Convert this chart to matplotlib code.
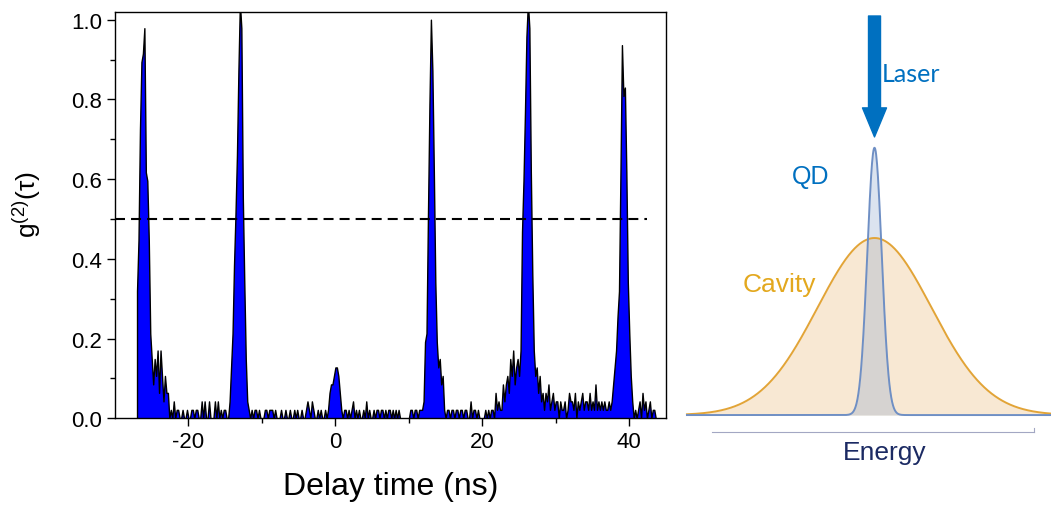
import numpy as np
import matplotlib
matplotlib.use("Agg")
import matplotlib.pyplot as plt
from matplotlib.patches import FancyArrowPatch, ArrowStyle

# coincidence counts in 0.2 ns bins, first bin at -27.0 ns
bin_ns = 0.2
t_first = -27.0
counts_per_g2 = 47  # counts in one bin for g2 = 1

# -27.0 .. -11.2 ns
counts_a = [
    15, 21, 34, 42, 43, 46, 29, 28, 21, 10, 7, 4, 7, 5, 8, 3, 8, 5, 2, 5,
    3, 3, 0, 1, 0, 2, 0, 1, 1, 0, 0, 1, 0, 0, 1, 0, 0, 1, 1, 0,
    1, 1, 0, 0, 2, 0, 2, 0, 0, 2, 0, 0, 0, 2, 0, 2, 0, 1, 0, 1,
    1, 0, 0, 2, 6, 10, 18, 24, 31, 41, 49, 46, 26, 16, 7, 2, 1, 0, 1, 0,
]
# -11.0 .. 4.8 ns
counts_b = [
    1, 1, 0, 1, 0, 0, 0, 1, 1, 0, 1, 1, 1, 0, 1, 0, 0, 0, 1, 0,
    0, 1, 0, 0, 1, 0, 0, 1, 0, 1, 0, 0, 1, 0, 0, 1, 2, 1, 0, 2,
    1, 0, 0, 1, 0, 1, 0, 0, 1, 0, 1, 3, 4, 4, 5, 6, 6, 5, 3, 1,
    0, 1, 1, 0, 1, 0, 1, 2, 0, 1, 0, 1, 0, 0, 1, 0, 2, 0, 1, 0,
]
# 5.0 .. 20.8 ns
counts_c = [
    0, 1, 0, 1, 1, 0, 1, 1, 0, 1, 0, 1, 1, 0, 1, 0, 1, 0, 1, 0,
    0, 0, 0, 0, 0, 0, 1, 1, 0, 1, 1, 0, 1, 1, 1, 2, 9, 10, 24, 37,
    47, 41, 29, 16, 9, 6, 7, 4, 5, 1, 0, 1, 1, 0, 1, 1, 0, 1, 1, 0,
    1, 1, 0, 1, 1, 0, 0, 2, 0, 1, 1, 0, 1, 0, 0, 0, 0, 1, 0, 1,
]
# 21.0 .. 36.8 ns
counts_d = [
    0, 1, 1, 0, 3, 1, 2, 1, 1, 4, 2, 4, 5, 3, 7, 5, 8, 4, 6, 7,
    5, 8, 22, 28, 36, 45, 49, 46, 29, 17, 8, 5, 6, 3, 5, 2, 3, 1, 3, 2,
    4, 1, 2, 3, 1, 2, 2, 0, 2, 1, 1, 2, 0, 1, 3, 2, 2, 1, 3, 0,
    2, 1, 2, 3, 1, 2, 2, 1, 3, 1, 2, 1, 4, 1, 2, 1, 2, 1, 2, 1,
]
# 37.0 .. 43.6 ns
counts_e = [
    1, 2, 1, 2, 4, 6, 8, 12, 15, 29, 44, 38, 39, 29, 16, 10, 5, 2, 0, 1,
    0, 1, 2, 0, 3, 1, 2, 0, 1, 2, 0, 1, 1, 0,
]

g2_threshold = 0.5
threshold_end = 42.4

counts = np.array(counts_a + counts_b + counts_c + counts_d + counts_e, dtype=float)
tau = t_first + bin_ns * np.arange(len(counts))
g2 = counts / counts_per_g2

# schematic line shapes (energy in units of the cavity width)
energy_span = (-3.29, 3.10)
cavity_height = 1.0
cavity_sigma = 1.0
qd_height = 1.51
qd_sigma = 0.126
laser_top = 2.254
laser_tip = 1.571

plt.rcParams['font.family'] = ['Liberation Sans', 'DejaVu Sans']
plt.rcParams['mathtext.fontset'] = 'custom'
plt.rcParams['mathtext.rm'] = 'Liberation Sans'
plt.rcParams['axes.unicode_minus'] = False

fig = plt.figure(figsize=(10.51, 5.06), dpi=100)

# ---- g2 histogram ----
ax = fig.add_axes([0.1094, 0.1713, 0.5243, 0.8036])
# closed outline so the first bin edge is drawn down to zero
ax.fill_between(tau, g2, 0, facecolor='#0000FF', edgecolor='black', lw=1.0)
ax.hlines(g2_threshold, -30, threshold_end, colors='black', lw=1.5,
          linestyles=(0, (4.8, 2.9)))

ax.set_xlim(-30, 45)
ax.set_ylim(0, 1.02)
ax.set_xticks([-20, 0, 20, 40])
ax.set_xticks([-10, 10, 30], minor=True)
ax.set_yticks(np.arange(0, 1.01, 0.2))
ax.set_yticks(np.arange(0.1, 1.0, 0.2), minor=True)
ax.yaxis.set_major_formatter(matplotlib.ticker.FormatStrFormatter('%.1f'))
ax.tick_params(which='major', direction='out', length=6, width=1,
               labelsize=16, pad=3)
ax.tick_params(which='minor', direction='out', length=3.5, width=1)
for s in ax.spines.values():
    s.set_linewidth(1.0)

ax.set_xlabel('Delay time (ns)', fontsize=23, labelpad=14)
ax.set_ylabel('g$^{(2)}$(τ)', fontsize=19)
ax.yaxis.set_label_coords(-0.13, 0.527)

# ---- QD / cavity sketch ----
ax2 = fig.add_axes([680 / 1051, 0, 371 / 1051, 1])
ax2.set_xlim(-3.412, 3.096)
ax2.set_ylim(-0.508, 2.350)
ax2.axis('off')

E = np.linspace(energy_span[0], energy_span[1], 800)
cavity = cavity_height * np.exp(-E**2 / (2 * cavity_sigma**2))
qd = qd_height * np.exp(-E**2 / (2 * qd_sigma**2))

ax2.fill_between(E, cavity, 0, color='#F8E8D3', lw=0)
ax2.plot(E, cavity, color='#E2A437', lw=1.4)
ax2.fill_between(E, qd, 0, color='#8AA5CD', alpha=0.3, lw=0)
ax2.plot(E, qd, color='#6F8FC4', lw=1.4)

arrow = FancyArrowPatch((0, laser_top), (0, laser_tip),
                        arrowstyle=ArrowStyle.Simple(head_length=2.09, head_width=1.73,
                                                     tail_width=0.864),
                        mutation_scale=10, color='#0070C0', shrinkA=0, shrinkB=0)
ax2.add_patch(arrow)

ax2.text(0.12, 1.93, 'Laser', color='#0070C0', fontsize=18, family='Lato',
         ha='left', va='center')
ax2.text(-1.45, 1.35, 'QD', color='#0070C0', fontsize=18, family='Liberation Sans',
         ha='left', va='center')
ax2.text(-2.32, 0.74, 'Cavity', color='#E3A81E', fontsize=19, family='Liberation Sans',
         ha='left', va='center')

ax2.plot([-2.85, 2.80], [-0.094, -0.094], color='#A3A7C3', lw=0.8)
ax2.plot([2.80, 2.80], [-0.094, -0.075], color='#A3A7C3', lw=0.8)
ax2.text(0.17, -0.249, 'Energy', color='#1B2A63', fontsize=19, family='Liberation Sans',
         ha='center', va='baseline')

fig.savefig('out.png', dpi=100)
